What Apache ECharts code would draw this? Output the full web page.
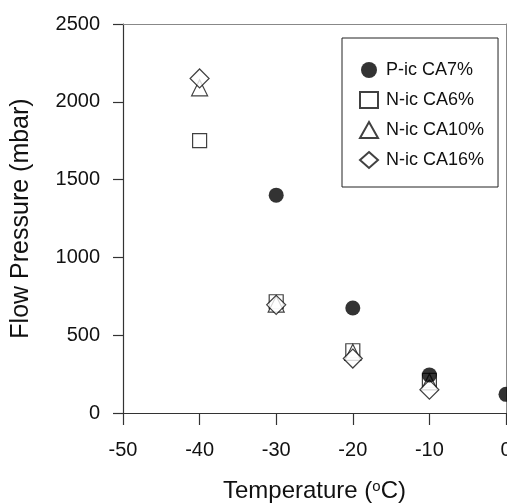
<!DOCTYPE html>
<html>
<head>
<meta charset="utf-8">
<script src="https://cdn.jsdelivr.net/npm/echarts@6/dist/echarts.min.js"></script>
<style>
  html, body { margin: 0; padding: 0; background: #fff; }
  #chart { width: 507px; height: 503px; }
</style>
</head>
<body>
<div id="chart"></div>
<script>
var temps = [-40, -30, -20, -10, 0];
var pic7 = [null, 1400, 675, 245, 120];
var nic6 = [1750, 715, 400, 210, null];
var nic10 = [2090, 700, 390, 200, null];
var nic16 = [2150, 695, 350, 150, null];
var xTicks = [-50, -40, -30, -20, -10, 0];
var yTicks = [0, 500, 1000, 1500, 2000, 2500];

function pairs(vals) {
  var out = [];
  for (var i = 0; i < temps.length; i++) {
    if (vals[i] != null) out.push([temps[i], vals[i]]);
  }
  return out;
}

var chart = echarts.init(document.getElementById('chart'), null, {renderer: 'canvas'});
var font = 'Liberation Sans, Arial, sans-serif';
var hollow = { color: '#fff', borderColor: '#111', borderWidth: 1.2 };
var plain = function(v) { return String(v); };

var option = {
  animation: false,
  grid: {
    left: 123, right: 1, top: 24, bottom: 90,
    outerBoundsMode: 'none', containLabel: false
  },
  legend: {
    orient: 'vertical',
    left: 342, top: 38,
    width: 156,
    padding: [23, 14, 18, 17],
    borderColor: '#222', borderWidth: 1,
    itemGap: 12,
    itemWidth: 18, itemHeight: 16,
    textStyle: { fontFamily: font, fontSize: 18, color: '#111', padding: [0, 0, 0, 3] },
    data: [
      { name: 'P-ic CA7%', icon: 'circle' },
      { name: 'N-ic CA6%', icon: 'rect' },
      { name: 'N-ic CA10%', icon: 'triangle' },
      { name: 'N-ic CA16%', icon: 'diamond' }
    ]
  },
  xAxis: [{
    type: 'value',
    min: xTicks[0], max: xTicks[xTicks.length - 1], interval: 10,
    name: '{t|Temperature (}{s|o}{t|C)}',
    nameLocation: 'middle', nameGap: 66,
    nameTextStyle: {
      rich: {
        t: { fontFamily: font, fontSize: 24, color: '#111' },
        s: { fontFamily: font, fontSize: 15, color: '#111', verticalAlign: 'top', padding: [0, 0, 10, 0] }
      }
    },
    axisLine: { onZero: false, lineStyle: { color: '#333', width: 1.2 } },
    axisTick: { show: true, length: 12, lineStyle: { color: '#333', width: 1.2 } },
    axisLabel: { fontFamily: font, fontSize: 20, color: '#111', margin: 27, formatter: plain },
    splitLine: { show: false }
  }, {
    type: 'value', position: 'top',
    min: xTicks[0], max: xTicks[xTicks.length - 1],
    axisLine: { show: true, onZero: false, lineStyle: { color: '#888', width: 1 } },
    axisTick: { show: false }, axisLabel: { show: false }, splitLine: { show: false }
  }],
  yAxis: [{
    type: 'value',
    min: yTicks[0], max: yTicks[yTicks.length - 1], interval: 500,
    name: 'Flow Pressure (mbar)',
    nameLocation: 'middle', nameGap: 89,
    nameTextStyle: { fontFamily: font, fontSize: 25, color: '#111' },
    axisLine: { show: true, onZero: false, lineStyle: { color: '#333', width: 1.2 } },
    axisTick: { show: true, length: 10, lineStyle: { color: '#333', width: 1.2 } },
    axisLabel: { fontFamily: font, fontSize: 20, color: '#111', margin: 23, formatter: plain },
    splitLine: { show: false }
  }, {
    type: 'value', position: 'right',
    min: yTicks[0], max: yTicks[yTicks.length - 1],
    axisLine: { show: true, onZero: false, lineStyle: { color: '#888', width: 1 } },
    axisTick: { show: false }, axisLabel: { show: false }, splitLine: { show: false }
  }],
  series: [
    {
      name: 'P-ic CA7%', type: 'scatter', symbol: 'circle', symbolSize: 15,
      itemStyle: { color: '#000' }, data: pairs(pic7), z: 5
    },
    {
      name: 'N-ic CA6%', type: 'scatter', symbol: 'rect', symbolSize: 14,
      itemStyle: hollow, data: pairs(nic6), z: 2
    },
    {
      name: 'N-ic CA10%', type: 'scatter', symbol: 'triangle', symbolSize: 16,
      itemStyle: hollow, data: pairs(nic10), z: 3
    },
    {
      name: 'N-ic CA16%', type: 'scatter', symbol: 'diamond', symbolSize: 19,
      itemStyle: hollow, data: pairs(nic16), z: 4
    }
  ]
};
chart.setOption(option);
</script>
</body>
</html>
